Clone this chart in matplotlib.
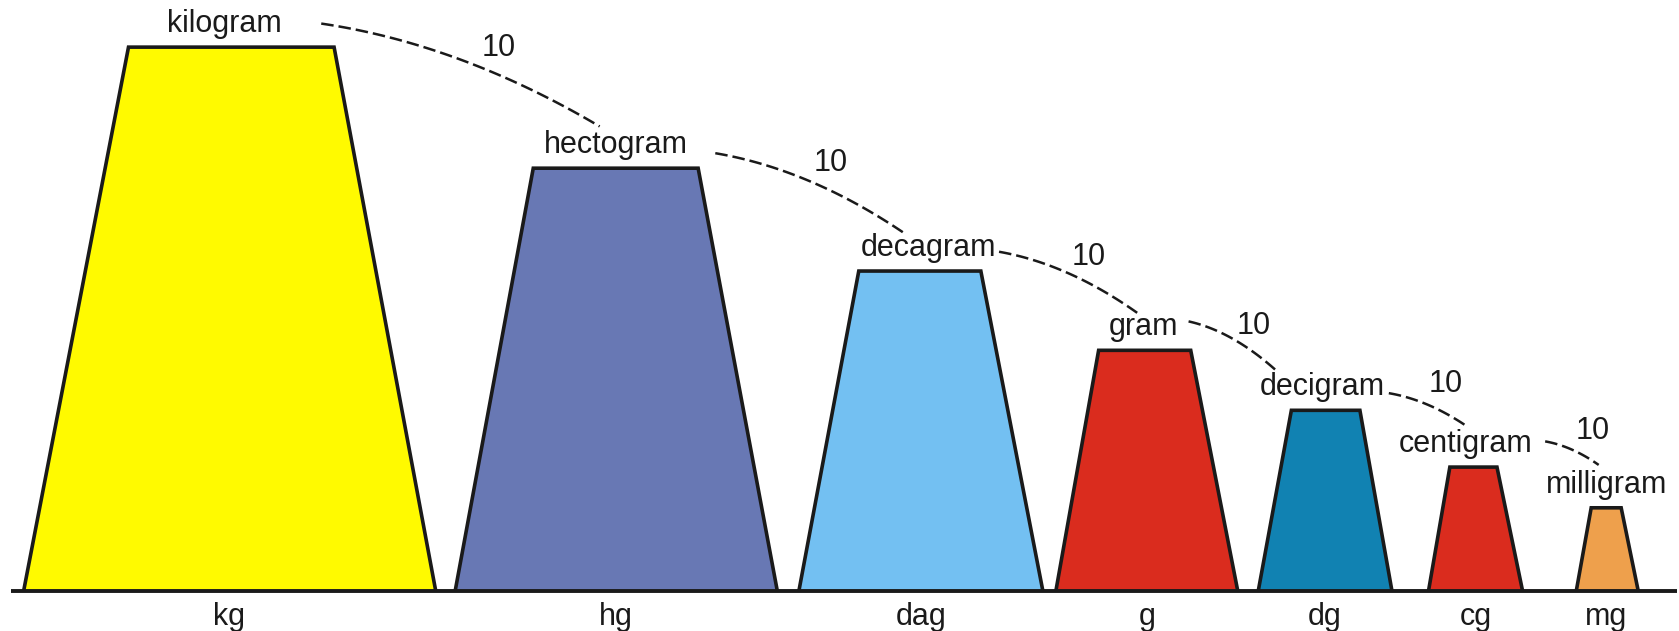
import matplotlib
matplotlib.use("Agg")
import matplotlib.pyplot as plt
from matplotlib.patches import Polygon
import numpy as np

plt.rcParams['font.family'] = ['Liberation Sans', 'DejaVu Sans']

# ---- data (in reference pixel frame 1568 x 589, y measured upward from bottom) ----
abbrevs = ["kg", "hg", "dag", "g", "dg", "cg", "mg"]
names = ["kilogram", "hectogram", "decagram", "gram", "decigram", "centigram", "milligram"]
colors = ["#FFFA00", "#6878B4", "#73C0F2", "#DA2C1E", "#1182B2", "#DA2C1E", "#EEA04C"]
bottom_left = [22, 425, 746, 986, 1175, 1334, 1472]
bottom_right = [407, 726, 974, 1156, 1300, 1422, 1530]
top_left = [120, 498, 802, 1026, 1206, 1354, 1486]
top_right = [312, 652, 916, 1112, 1270, 1398, 1514]
heights = [508, 395, 299, 225, 169, 116, 78]
name_x = [210, 575, 867, 1068, 1235, 1369, 1500]
abbr_x = [214, 575, 860, 1071, 1237, 1378, 1500]
factor_labels = ["10"] * 6
arc_start = [(300, 567), (668, 446), (933, 354), (1110, 289), (1297, 222), (1443, 177)]
arc_end = [(560, 471), (845, 371), (1062, 297), (1192, 243), (1370, 191), (1493, 155)]
factor_pos = [(466, 544), (776, 437), (1017, 349), (1171, 285), (1350, 231), (1487, 187)]

baseline = 37
W, H = 1568, 589

fig = plt.figure(figsize=(16.79, 6.31), dpi=100)
ax = fig.add_axes([0, 0, 1, 1])
ax.set_xlim(0, W)
ax.set_ylim(0, H)
ax.axis("off")

fs = 22
ink = "#1a1a1a"
for i in range(len(abbrevs)):
    top = baseline + heights[i]
    poly = Polygon([(bottom_left[i], baseline), (top_left[i], top),
                    (top_right[i], top), (bottom_right[i], baseline)],
                   closed=False, facecolor=colors[i], edgecolor=ink,
                   linewidth=2.6, joinstyle="miter", zorder=2)
    ax.add_patch(poly)
    ax.text(name_x[i], top + 14, names[i], ha="center", va="baseline",
            fontsize=fs, color=ink, zorder=3)
    ax.text(abbr_x[i], baseline - 31, abbrevs[i], ha="center", va="baseline",
            fontsize=fs, color=ink, zorder=3)

# baseline
ax.plot([10, 1566], [baseline, baseline], color=ink, linewidth=2.8,
        solid_capstyle="butt", zorder=4)

# dashed arcs
t = np.linspace(0, 1, 60)
for (x0, y0), (x1, y1), (fx, fy), lab in zip(arc_start, arc_end, factor_pos, factor_labels):
    cx, cy = x0 + 0.5 * (x1 - x0), y0 + 0.2 * (y1 - y0)
    xs = (1 - t) ** 2 * x0 + 2 * (1 - t) * t * cx + t ** 2 * x1
    ys = (1 - t) ** 2 * y0 + 2 * (1 - t) * t * cy + t ** 2 * y1
    ax.plot(xs, ys, color=ink, linewidth=1.8, linestyle=(0, (5, 2)), zorder=3)
    ax.text(fx, fy, lab, ha="center", va="center", fontsize=fs, color=ink)

fig.savefig("out.png", dpi=100, facecolor="white")
